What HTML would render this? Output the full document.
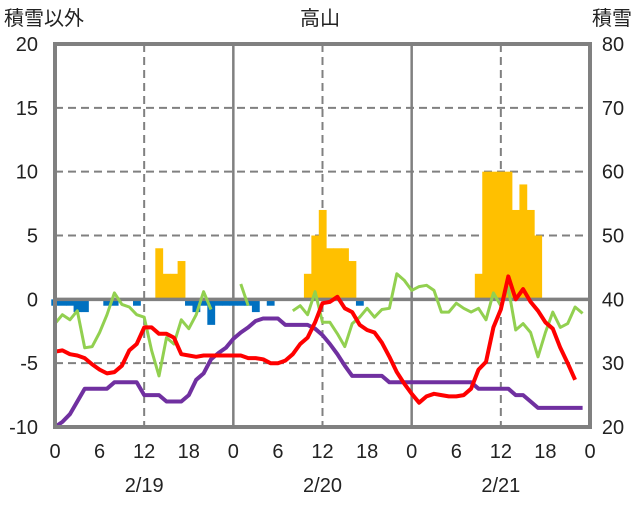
<!DOCTYPE html>
<html><head><meta charset="utf-8"><style>
body{margin:0;background:#fff;}
svg text{font-family:"Liberation Sans","Noto Sans CJK JP",sans-serif;fill:#222;}
</style></head><body>
<svg id="chart" width="636" height="501" viewBox="0 0 636 501" xmlns="http://www.w3.org/2000/svg">
<text x="4" y="25" font-size="20">積雪以外</text>
<text x="320" y="25" font-size="20" text-anchor="middle">高山</text>
<text x="632" y="25" font-size="20" text-anchor="end">積雪</text>
<g id="grid"></g>
<g id="bars"></g>
<g id="lines"></g>
<g id="frame"></g>
<g id="labels"></g>
</svg>
<script>
const hours=[];for(let i=0;i<=72;i++)hours.push(i);
const yellowHours=[14,15,16,17,34,35,36,37,38,39,40,57,58,59,60,61,62,63,64,65];
const yellowValues=[4,2,2,3,2,5,7,4,4,4,3,2,10,10,10,10,7,9,7,5];
const blueHours=[0,1,2,3,4,7,8,11,18,19,20,21,22,23,24,25,26,27,29,41];
const blueValues=[-0.5,-0.5,-0.5,-1,-1,-0.5,-0.5,-0.5,-0.5,-1,-0.5,-2,-0.5,-0.5,-0.5,-0.5,-0.5,-1,-0.5,-0.5];
const redValues=[-4.1,-4.0,-4.3,-4.4,-4.6,-5.1,-5.5,-5.8,-5.7,-5.2,-4.0,-3.5,-2.2,-2.2,-2.7,-2.7,-3.0,-4.3,-4.4,-4.5,-4.4,-4.4,-4.4,-4.4,-4.4,-4.4,-4.6,-4.6,-4.7,-5.0,-5.0,-4.8,-4.3,-3.5,-3.0,-1.8,-0.3,-0.2,0.2,-0.7,-1.0,-2.0,-2.4,-2.6,-3.4,-4.5,-5.7,-6.6,-7.4,-8.1,-7.6,-7.4,-7.5,-7.6,-7.6,-7.5,-7.0,-5.5,-4.9,-2.2,-0.8,1.8,0.0,0.8,-0.2,-0.9,-1.8,-2.3,-3.8,-5.0,-6.3,null,null];
const purpleValues=[-10,-9.6,-9.0,-8.0,-7.0,-7.0,-7.0,-7.0,-6.5,-6.5,-6.5,-6.5,-7.5,-7.5,-7.5,-8.0,-8.0,-8.0,-7.5,-6.3,-5.8,-4.7,-4.2,-3.8,-3.1,-2.6,-2.2,-1.7,-1.5,-1.5,-1.5,-2.0,-2.0,-2.0,-2.0,-2.3,-2.8,-3.5,-4.3,-5.2,-6.0,-6.0,-6.0,-6.0,-6.0,-6.5,-6.5,-6.5,-6.5,-6.5,-6.5,-6.5,-6.5,-6.5,-6.5,-6.5,-6.5,-7.0,-7.0,-7.0,-7.0,-7.0,-7.5,-7.5,-8.0,-8.5,-8.5,-8.5,-8.5,-8.5,-8.5,-8.5,null];
const greenValues=[-1.9,-1.2,-1.6,-0.9,-3.8,-3.7,-2.6,-1.2,0.5,-0.4,-0.6,-1.2,-1.4,-4.0,-6.0,-3.0,-3.5,-1.6,-2.3,-1.2,0.6,-0.8,null,null,null,1.2,-0.5,null,null,null,null,null,-0.9,-0.5,-1.2,0.6,-1.8,-1.8,-2.7,-3.7,-1.9,-1.4,-0.7,-1.4,-0.8,-0.7,2.0,1.5,0.7,1.0,1.1,0.7,-1.0,-1.0,-0.3,-0.7,-1.0,-0.7,-1.6,0.5,-0.5,0.9,-2.4,-1.9,-2.6,-4.5,-2.6,-1.0,-2.2,-1.9,-0.6,-1.1,null];
const leftTicks=[20,15,10,5,0,-5,-10];
const rightTicks=[80,70,60,50,40,30,20];
const xTickLabels=["0","6","12","18","0","6","12","18","0","6","12","18","0"];
const dateLabels=["2/19","2/20","2/21"];

const X0=55,X1=590,Y0=44,Y1=427;
const x=h=>X0+(X1-X0)*h/72;
const y=v=>Y1-(Y1-Y0)*(v+10)/30;
const NS="http://www.w3.org/2000/svg";
function mk(tag,attrs,parent){const e=document.createElementNS(NS,tag);for(const k in attrs)e.setAttribute(k,attrs[k]);parent.appendChild(e);return e;}
const grid=document.getElementById('grid'),bars=document.getElementById('bars'),lines=document.getElementById('lines'),frame=document.getElementById('frame'),labels=document.getElementById('labels');
[15,10,5,-5].forEach(v=>{const l=mk('line',{x1:X0,x2:X1,y1:y(v),y2:y(v),stroke:'#808080','stroke-width':2,'stroke-dasharray':'8,5'},grid);

});
[12,36,60].forEach(h=>{const l=mk('line',{x1:x(h),x2:x(h),y1:Y0,y2:Y1,stroke:'#808080','stroke-width':2,'stroke-dasharray':'8,5'},grid);

});
[24,48].forEach(h=>{const l=mk('line',{x1:x(h),x2:x(h),y1:Y0,y2:Y1,stroke:'#808080','stroke-width':2.5},grid);

});
const bw=(X1-X0)/72;
yellowHours.forEach((h,i)=>{const v=yellowValues[i];const r=mk('rect',{x:x(h)-bw/2,y:y(v),width:bw+0.4,height:y(0)-y(v),fill:'#ffc000'},bars);

});
blueHours.forEach((h,i)=>{const v=blueValues[i];const r=mk('rect',{x:x(h)-bw/2,y:y(0),width:bw+0.4,height:y(v)-y(0),fill:'#0070c0'},bars);

});
const zl=mk('line',{x1:X0,x2:X1,y1:y(0),y2:y(0),stroke:'#808080','stroke-width':3.5},bars);


function series(vals,color,w,name){let d='',pen=false;vals.forEach((v,i)=>{if(v===null){pen=false;return;}d+=(pen?'L':'M')+x(hours[i]).toFixed(1)+','+y(v).toFixed(1);pen=true;});
const p=mk('path',{d:d,fill:'none',stroke:color,'stroke-width':w,'stroke-linejoin':'round'},lines);

}
series(greenValues,'#92d050',3,'green-series');
series(purpleValues,'#7030a0',4,'purple-series');
series(redValues,'#ff0000',4,'red-series');
const fr=mk('rect',{x:X0,y:Y0,width:X1-X0,height:Y1-Y0,fill:'none',stroke:'#808080','stroke-width':4},frame);


leftTicks.forEach((v,i)=>{const t=mk('text',{x:38,y:y(v)+7,'font-size':20,'text-anchor':'end'},labels);t.textContent=v;


const r=mk('text',{x:613,y:y(v)+7,'font-size':20,'text-anchor':'middle'},labels);r.textContent=rightTicks[i];

});
xTickLabels.forEach((s,i)=>{const t=mk('text',{x:x(i*6),y:458,'font-size':20,'text-anchor':'middle'},labels);t.textContent=s;

});
dateLabels.forEach((s,i)=>{const t=mk('text',{x:x(12+24*i),y:492,'font-size':20,'text-anchor':'middle'},labels);t.textContent=s;

});
</script>
</body></html>
